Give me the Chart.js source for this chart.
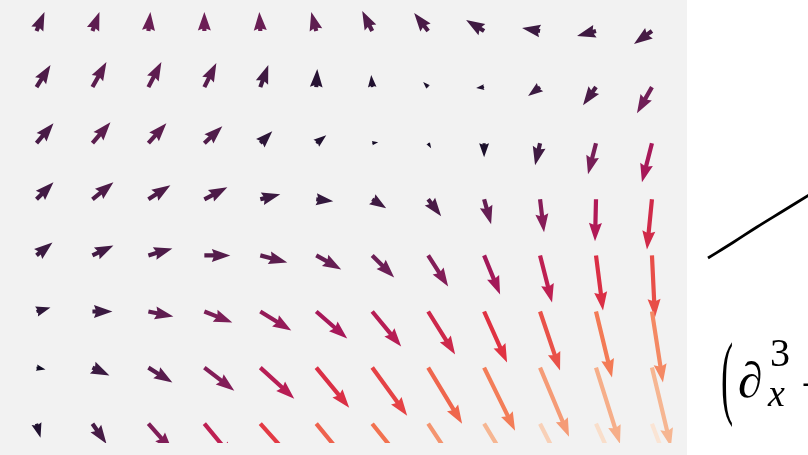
<!DOCTYPE html>
<html>
<head>
<meta charset="utf-8">
<script src="https://cdn.jsdelivr.net/npm/chart.js@4.4.1/dist/chart.umd.min.js"></script>
<style>
html,body{margin:0;padding:0;background:#ffffff;overflow:hidden}
#wrap{width:808px;height:455px;position:relative}
</style>
</head>
<body>
<div id="wrap"><canvas id="c" width="808" height="455"></canvas></div>
<script>
// ---- grid of the vector field (column / row indices) ----
const columns = [0,1,2,3,4,5,6,7,8,9,10,11];
const rows = [0,1,2,3,4,5,6,7];

// ---- horizontal component of each arrow (right positive), one list per row ----
const U = [
  [  8,  7,  2,  0, -1, -5,-10,-14,-18,-18,-19,-18],
  [ 14, 14, 13, 12,  8,  1, -1, -5, -8,-12,-13,-15],
  [ 17, 18, 18, 18, 12, 10,  6,  3,  0, -5, -8,-10],
  [ 17, 21, 22, 23, 20, 17, 14, 13,  7,  4, -1, -5],
  [ 16, 21, 24, 26, 27, 25, 22, 20, 16, 12,  7,  3],
  [ 14, 20, 25, 28, 31, 31, 29, 27, 23, 20, 16, 11],
  [  9, 17, 24, 30, 34, 33, 35, 34, 31, 29, 24, 19],
  [  4, 14, 24, 30, 37, 38, 41, 40, 40, 37, 35, 31]
];
// ---- vertical component of each arrow (down positive) ----
const V = [
  [-19,-19,-19,-19,-19,-19,-20,-18,-11, -3,  5, 13],
  [-22,-25,-25,-24,-22,-18,-12, -5,  1,  9, 18, 26],
  [-20,-21,-20,-17,-12, -8, -1,  5, 14, 22, 31, 39],
  [-17,-17,-14,-12, -5,  2,  9, 17, 25, 33, 42, 50],
  [-13,-10, -7,  0,  7, 14, 22, 31, 39, 47, 55, 62],
  [ -4,  0,  5, 11, 19, 27, 35, 43, 51, 59, 66, 71],
  [  2,  8, 15, 23, 31, 40, 48, 56, 63, 69, 76, 79],
  [ 14, 20, 27, 36, 41, 46, 51, 60, 66, 73, 78, 82]
];
// ---- colour value of each arrow (0..1 on the colour map) ----
const C = [
  [0.15,0.20,0.23,0.24,0.23,0.20,0.16,0.14,0.11,0.10,0.11,0.13],
  [0.15,0.19,0.20,0.18,0.11,0.06,0.05,0.04,0.05,0.10,0.14,0.25],
  [0.14,0.19,0.19,0.16,0.07,0.05,0.03,0.03,0.04,0.11,0.27,0.40],
  [0.12,0.15,0.15,0.15,0.10,0.08,0.11,0.14,0.22,0.31,0.43,0.53],
  [0.10,0.12,0.15,0.17,0.19,0.22,0.24,0.30,0.39,0.47,0.56,0.65],
  [0.07,0.10,0.20,0.28,0.35,0.40,0.45,0.52,0.58,0.66,0.76,0.80],
  [0.02,0.10,0.18,0.30,0.45,0.56,0.62,0.71,0.77,0.85,0.90,0.92],
  [0.05,0.13,0.29,0.47,0.60,0.70,0.74,0.83,0.92,0.96,0.98,0.99]
];

// ---- the curve of the neighbouring panel ----
const curveX = [708, 733, 757, 783, 809];
const curveY = [258, 242.5, 227, 211, 195];

// ---- partial formula text of the neighbouring panel ----
const formulaParen = "(";
const formulaSymbol = "\u2202";
const formulaSup = "3";
const formulaSub = "x";
const formulaOp = "+";

// rocket colour map anchors
const rocketStops = [
  [0.000, [3,5,26]],
  [0.083, [53,25,62]],
  [0.250, [112,31,87]],
  [0.417, [173,23,89]],
  [0.583, [225,51,66]],
  [0.750, [243,118,81]],
  [0.917, [246,180,143]],
  [1.000, [250,235,221]]
];
function rocket(t){
  t = Math.max(0, Math.min(1, t));
  for (let k = 1; k < rocketStops.length; k++){
    const [t1, c1] = rocketStops[k];
    const [t0, c0] = rocketStops[k-1];
    if (t <= t1){
      const f = (t - t0) / (t1 - t0);
      const r = Math.round(c0[0] + f*(c1[0]-c0[0]));
      const g = Math.round(c0[1] + f*(c1[1]-c0[1]));
      const b = Math.round(c0[2] + f*(c1[2]-c0[2]));
      return `rgb(${r},${g},${b})`;
    }
  }
  return 'rgb(250,235,221)';
}

const fieldPoints = [];
rows.forEach(r => columns.forEach(c => fieldPoints.push({x: c, y: r, u: U[r][c], v: V[r][c], col: C[r][c]})));
const curvePoints = curveX.map((x, i) => ({x, y: curveY[i]}));

const PANEL_X_MAX = 11.626;   // right edge of grey panel (x units)
const CLIP_Y_MAX = 7.344;     // lower clip of the arrows (y units)
const ARROW_UNIT = 1/56;      // arrow component -> grid units
const SERIF = "'Liberation Serif'";

const bgPlugin = {
  id: 'bg',
  beforeDraw(chart){
    const ctx = chart.ctx, xs = chart.scales.x;
    ctx.save();
    ctx.fillStyle = '#ffffff';
    ctx.fillRect(0, 0, chart.width, chart.height);
    ctx.fillStyle = '#f2f2f2';
    ctx.fillRect(0, 0, xs.getPixelForValue(PANEL_X_MAX), chart.height);
    ctx.restore();
  }
};

const quiverPlugin = {
  id: 'quiver',
  afterDatasetsDraw(chart){
    const ctx = chart.ctx, xs = chart.scales.x, ys = chart.scales.y;
    const w = 4.2, hw = 1.55*w, hl = 4.4*w, hal = 4.0*w, minsh = hl;
    ctx.save();
    ctx.beginPath();
    ctx.rect(xs.getPixelForValue(xs.min), ys.getPixelForValue(ys.min),
             xs.getPixelForValue(PANEL_X_MAX) - xs.getPixelForValue(xs.min),
             ys.getPixelForValue(CLIP_Y_MAX) - ys.getPixelForValue(ys.min));
    ctx.clip();
    chart.data.datasets[0].data.forEach(p => {
      const x0 = xs.getPixelForValue(p.x), y0 = ys.getPixelForValue(p.y);
      const x1 = xs.getPixelForValue(p.x + p.u*ARROW_UNIT), y1 = ys.getPixelForValue(p.y + p.v*ARROW_UNIT);
      const dx = x1 - x0, dy = y1 - y0, L = Math.hypot(dx, dy);
      if (L < 0.5) return;
      const ux = dx/L, uy = dy/L, nx = -uy, ny = ux;
      let pts;
      if (L >= minsh){
        pts = [[0, w/2],[L-hal, w/2],[L-hl, hw],[L,0],[L-hl,-hw],[L-hal,-w/2],[0,-w/2]];
      } else {
        const s = L/minsh;
        pts = [[0, s*w/2],[s*(minsh-hal), s*w/2],[0, s*hw],[L,0],[0,-s*hw],[s*(minsh-hal),-s*w/2],[0,-s*w/2]];
      }
      ctx.beginPath();
      pts.forEach((q, k) => {
        const px = x0 + q[0]*ux + q[1]*nx, py = y0 + q[0]*uy + q[1]*ny;
        if (k === 0) ctx.moveTo(px, py); else ctx.lineTo(px, py);
      });
      ctx.closePath();
      ctx.fillStyle = rocket(p.col);
      ctx.fill();
    });
    ctx.restore();
  }
};

const formulaPlugin = {
  id: 'formula',
  afterDraw(chart){
    const ctx = chart.ctx;
    ctx.save();
    ctx.fillStyle = '#000000';
    ctx.textBaseline = 'alphabetic';
    ctx.textAlign = 'left';
    // big left parenthesis
    ctx.save();
    ctx.translate(721, 407);
    ctx.scale(0.55, 1.4);
    ctx.font = "66px " + SERIF;
    ctx.fillText(formulaParen, 0, 0);
    ctx.restore();
    ctx.font = "italic 50px " + SERIF;
    ctx.fillText(formulaSymbol, 738, 397);
    ctx.font = "40px " + SERIF;
    ctx.fillText(formulaSup, 770, 366);
    ctx.font = "italic 38px " + SERIF;
    ctx.fillText(formulaSub, 768, 406);
    ctx.font = "50px " + SERIF;
    ctx.fillText(formulaOp, 801, 402);
    ctx.restore();
  }
};

new Chart(document.getElementById('c'), {
  type: 'scatter',
  data: {
    datasets: [
      {label: 'field', data: fieldPoints, xAxisID: 'x', yAxisID: 'y', pointRadius: 0, showLine: false},
      {type: 'line', label: 'curve', data: curvePoints, xAxisID: 'x2', yAxisID: 'y2',
       borderColor: '#000000', borderWidth: 2.8, pointRadius: 0, tension: 0.4, fill: false, clip: false}
    ]
  },
  options: {
    responsive: false,
    animation: false,
    layout: {padding: 0},
    plugins: {legend: {display: false}, tooltip: {enabled: false}},
    events: [],
    scales: {
      x: {type: 'linear', min: -0.6524, max: 13.789, display: false},
      y: {type: 'linear', min: -0.5526, max: 7.558, reverse: true, display: false},
      x2: {type: 'linear', min: 0, max: 808, display: false},
      y2: {type: 'linear', min: 0, max: 455, reverse: true, display: false}
    }
  },
  plugins: [bgPlugin, quiverPlugin, formulaPlugin]
});
</script>
</body>
</html>
